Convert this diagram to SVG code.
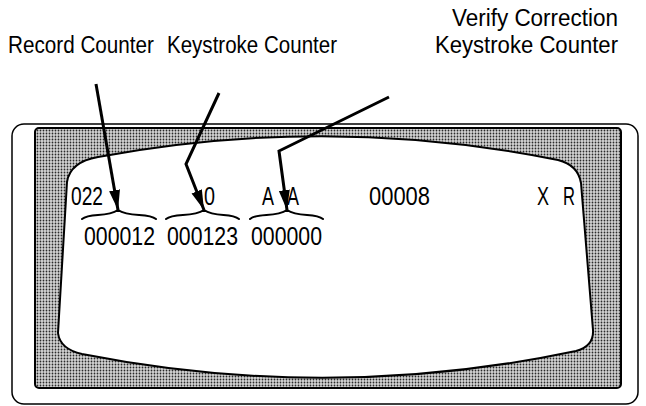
<svg xmlns="http://www.w3.org/2000/svg" width="646" height="406" viewBox="0 0 646 406">
  <style>
    .lbl { font-family: "Liberation Sans", Arial, sans-serif; font-size: 23.5px; fill: #000; }
    .scr { font-family: "Liberation Sans", Arial, sans-serif; font-size: 26px; fill: #000; }
    .brace { fill: none; stroke: #000; stroke-width: 2; stroke-linecap: round; }
    .arrow { fill: none; stroke: #000; stroke-width: 3; stroke-linejoin: miter; marker-end: url(#ah); }
  </style>
  <defs>
    <pattern id="dots" width="3" height="3" patternUnits="userSpaceOnUse">
      <rect width="3" height="3" fill="#d4d4d4"/>
      <circle cx="1.5" cy="1.5" r="0.9" fill="#2a2a2a"/>
    </pattern>
    <marker id="ah" markerUnits="userSpaceOnUse" markerWidth="22" markerHeight="14" refX="20" refY="7" orient="auto">
      <path d="M0,1.5 L20,7 L0,12.5 Z" fill="#000"/>
    </marker>
  </defs>
  <rect width="646" height="406" fill="#fff"/>

  <g id="frame">
    <rect x="12" y="124" width="626" height="280" rx="12" fill="#fff" stroke="#000" stroke-width="1.5"/>
  </g>
  <g id="bezel">
    <rect x="35" y="128" width="586" height="260" rx="4" fill="url(#dots)" stroke="#000" stroke-width="2"/>
  </g>
  <g id="screen">
    <path d="M98,157 Q330,114 558,160 Q578,165 581,183 L593,330 Q594,346 576,351 Q330,403 82,354 Q60,349 58,333 L67,182 Q70,162 98,157 Z" fill="#fff" stroke="#000" stroke-width="2"/>
  </g>

  <g id="labels">
    <text class="lbl" x="452" y="26" textLength="166" lengthAdjust="spacingAndGlyphs">Verify Correction</text>
    <text class="lbl" x="8" y="53" textLength="146" lengthAdjust="spacingAndGlyphs">Record Counter</text>
    <text class="lbl" x="167" y="53" textLength="170" lengthAdjust="spacingAndGlyphs">Keystroke Counter</text>
    <text class="lbl" x="435" y="53" textLength="183" lengthAdjust="spacingAndGlyphs">Keystroke Counter</text>
  </g>

  <g id="screen-text">
    <text class="scr" x="71" y="205" textLength="32" lengthAdjust="spacingAndGlyphs">022</text>
    <text class="scr" x="204" y="205" textLength="11" lengthAdjust="spacingAndGlyphs">0</text>
    <text class="scr" x="262" y="205" textLength="12" lengthAdjust="spacingAndGlyphs">A</text>
    <text class="scr" x="287" y="205" textLength="12" lengthAdjust="spacingAndGlyphs">A</text>
    <text class="scr" x="369" y="205" textLength="61" lengthAdjust="spacingAndGlyphs">00008</text>
    <text class="scr" x="537" y="205" textLength="12" lengthAdjust="spacingAndGlyphs">X</text>
    <text class="scr" x="563" y="205" textLength="12" lengthAdjust="spacingAndGlyphs">R</text>
    <text class="scr" x="84" y="245" textLength="71" lengthAdjust="spacingAndGlyphs">000012</text>
    <text class="scr" x="167" y="245" textLength="71" lengthAdjust="spacingAndGlyphs">000123</text>
    <text class="scr" x="251" y="245" textLength="71" lengthAdjust="spacingAndGlyphs">000000</text>
  </g>

  <g id="braces">
    <path class="brace" d="M82,219 C90,212 106,218 118,210 C130,218 148,212 156,219"/>
    <path class="brace" d="M166,219 C174,212 192,218 204,210 C216,218 231,212 239,219"/>
    <path class="brace" d="M250,219 C258,212 275,218 287,210 C299,218 315,212 323,219"/>
  </g>

  <g id="connectors">
    <path class="arrow" d="M96,84 L118,210"/>
    <path class="arrow" d="M219,93 L186,164 L204,210"/>
    <path class="arrow" d="M389,97 L279,151 L287,210"/>
  </g>
</svg>
